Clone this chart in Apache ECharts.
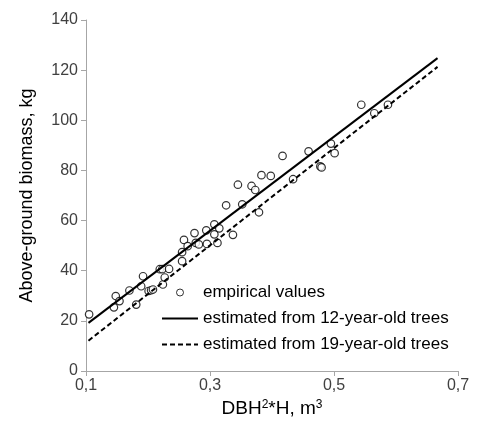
<!DOCTYPE html>
<html>
<head>
<meta charset="utf-8">
<script src="https://cdn.jsdelivr.net/npm/echarts@6/dist/echarts.min.js"></script>
<style>html,body{margin:0;padding:0;background:#fff}#c{width:480px;height:424px}</style>
</head>
<body>
<div id="c"></div>
<script>
// DBH^2*H (m3) of empirical trees
var empiricalX = [0.105,0.145,0.148,0.154,0.170,0.181,0.189,0.192,0.201,0.205,0.208,0.224,0.227,0.219,0.223,0.234,0.255,0.255,0.258,0.264,0.275,0.277,0.282,0.295,0.294,0.307,0.307,0.312,0.315,0.326,0.337,0.345,0.352,0.367,0.373,0.379,0.383,0.398,0.417,0.434,0.459,0.478,0.480,0.495,0.501,0.544,0.565,0.587];
// above-ground biomass (kg)
var empiricalY = [22.6,25.4,29.9,27.9,32.1,26.5,33.8,37.8,31.9,32.2,32.5,34.5,37.3,40.6,40.6,40.7,43.8,47.4,52.3,49.8,55.0,51.1,50.5,50.7,56.1,58.5,54.5,51.1,56.9,66.1,54.3,74.3,66.5,73.8,72.2,63.3,78.1,77.8,85.8,76.5,87.6,81.6,81.2,90.7,86.9,106.2,102.8,106.2];
// regression lines (endpoints)
var lineX = [0.104, 0.667];
var line12Y = [19.2, 124.8];
var line19Y = [12.1, 121.3];
var xTicks = [0.1, 0.3, 0.5, 0.7];

var chart = echarts.init(document.getElementById('c'));
var font = 'Liberation Sans, Arial, sans-serif';
var axisGrey = '#a6a6a6';
var textCol = '#404040';
function pairs(xs, ys){ return xs.map(function(x,i){ return [x, ys[i]]; }); }

chart.setOption({
  animation: false,
  backgroundColor: '#fff',
  grid: {left: 86, right: 22, top: 20, bottom: 53, containLabel: false},
  legend: {
    orient: 'vertical', left: 156, top: 279,
    itemWidth: 36, itemHeight: 7, itemGap: 9,
    textStyle: {fontFamily: font, fontSize: 17, color: '#000'},
    data: [
      {name: 'empirical values', icon: 'circle', itemStyle: {color: '#fff', borderColor: '#000', borderWidth: 1}},
      {name: 'estimated from 12-year-old trees', itemStyle: {opacity: 0}},
      {name: 'estimated from 19-year-old trees', itemStyle: {opacity: 0}}
    ]
  },
  xAxis: {
    type: 'value', min: 0.1, max: 0.7,
    name: 'DBH{sup|2}*H, m{sup|3}', nameLocation: 'middle', nameGap: 26,
    nameTextStyle: {fontFamily: font, fontSize: 19, color: '#000',
      rich: {sup: {fontFamily: font, fontSize: 12, color: '#000', verticalAlign: 'top', padding: [0, 0, 8, 0]}}},
    axisLine: {show: true, lineStyle: {color: axisGrey, width: 1}},
    axisTick: {show: true, length: 5, lineStyle: {color: axisGrey}, customValues: xTicks},
    axisLabel: {fontFamily: font, fontSize: 16, color: textCol, margin: 7, customValues: xTicks,
      formatter: function(v){ return v.toFixed(1).replace('.', ','); }},
    splitLine: {show: false}
  },
  yAxis: {
    type: 'value', min: 0, max: 140, interval: 20,
    name: 'Above-ground biomass, kg', nameLocation: 'middle', nameGap: 50,
    nameTextStyle: {fontFamily: font, fontSize: 18, color: '#000'},
    axisLine: {show: true, lineStyle: {color: axisGrey, width: 1}},
    axisTick: {show: true, length: 5, lineStyle: {color: axisGrey}},
    axisLabel: {fontFamily: font, fontSize: 16, color: textCol, margin: 8},
    splitLine: {show: false}
  },
  series: [
    {
      name: 'empirical values', type: 'scatter',
      data: pairs(empiricalX, empiricalY),
      symbol: 'circle', symbolSize: 7.5,
      itemStyle: {color: '#fff', borderColor: '#000', borderWidth: 1.2}
    },
    {
      name: 'estimated from 12-year-old trees', type: 'line',
      data: pairs(lineX, line12Y), symbol: 'none',
      lineStyle: {color: '#000', width: 2, type: 'solid'},
      itemStyle: {color: '#000'}
    },
    {
      name: 'estimated from 19-year-old trees', type: 'line',
      data: pairs(lineX, line19Y), symbol: 'none',
      lineStyle: {color: '#000', width: 2, type: [5, 3]},
      itemStyle: {color: '#000'}
    }
  ]
});
</script>
</body>
</html>
